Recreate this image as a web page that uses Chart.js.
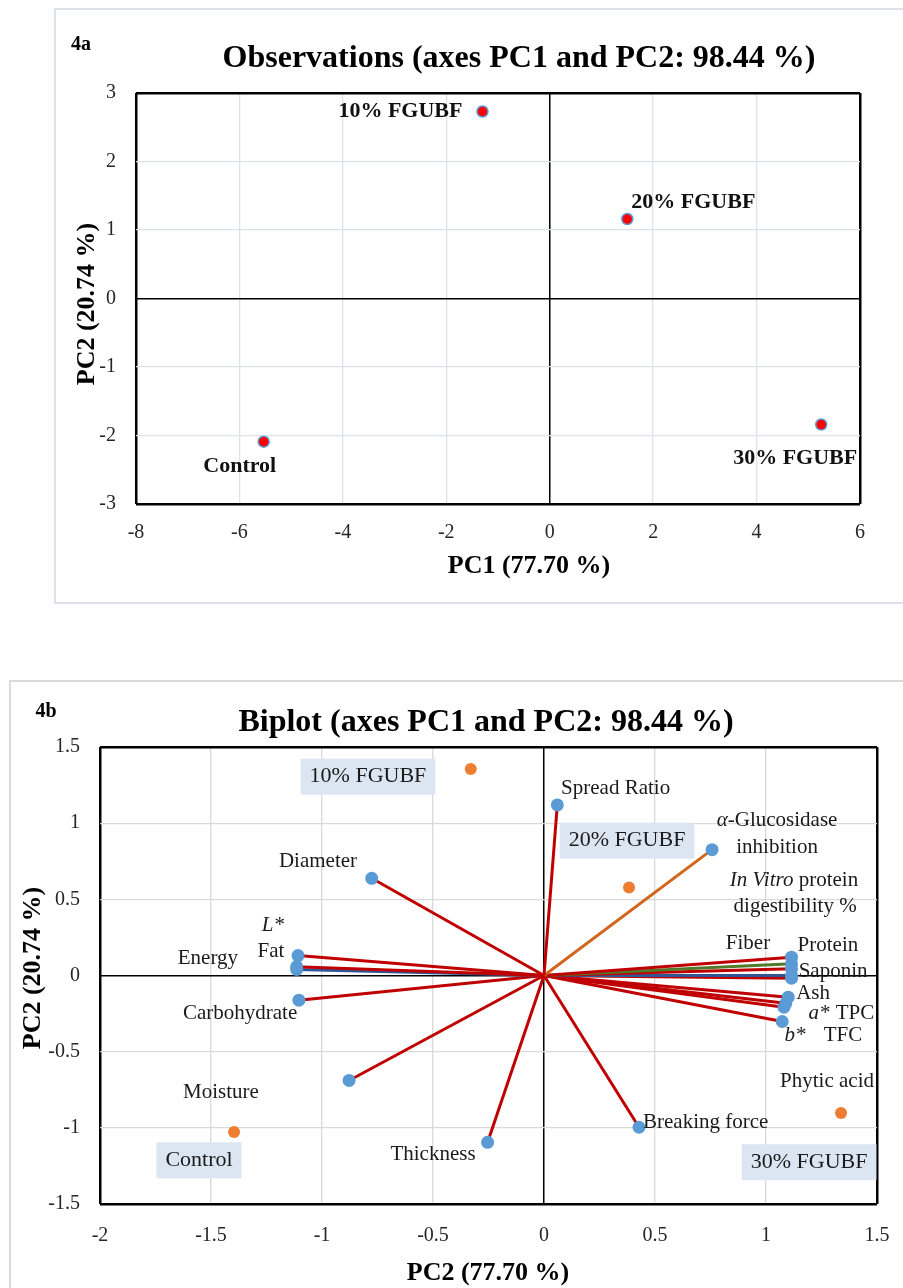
<!DOCTYPE html>
<html>
<head>
<meta charset="utf-8">
<script src="https://cdn.jsdelivr.net/npm/chart.js@4.4.1/dist/chart.umd.min.js"></script>
<style>
  body { margin: 0; background: #fff; width: 903px; height: 1288px; position: relative; overflow: hidden; }
  .frame { position: absolute; border: 2px solid #dde2ea; box-sizing: border-box; }
  canvas { position: absolute; left: 0; }
</style>
</head>
<body>
<div class="frame" style="left:54px; top:8px; width:900px; height:596px;"></div>
<div class="frame" style="left:9px; top:680px; width:950px; height:700px; border-color:#dadada;"></div>
<canvas id="obsChart" width="903" height="620" style="top:0"></canvas>
<canvas id="biplotChart" width="903" height="648" style="top:640px"></canvas>
<script>
// ----- 4a: observations -----
const obsNames = ["10% FGUBF", "20% FGUBF", "30% FGUBF", "Control"];
const obsPC1   = [-1.30, 1.50, 5.25, -5.53];
const obsPC2   = [2.73, 1.16, -1.84, -2.09];
const obsXTicks = [-8, -6, -4, -2, 0, 2, 4, 6];
const obsYTicks = [-3, -2, -1, 0, 1, 2, 3];

// ----- 4b: biplot -----
const biObsPC1 = [-0.33, 0.383, 1.338, -1.396];
const biObsPC2 = [1.355, 0.577, -0.903, -1.027];

const varNames = [
  "Spread Ratio", "α-Glucosidase inhibition", "Diameter", "Fat", "L*", "Energy",
  "Carbohydrate", "Moisture", "Thickness", "Breaking force", "Protein",
  "In Vitro protein digestibility %", "Fiber", "Saponin", "TPC", "Ash", "a*", "TFC", "b*"
];
const varPC1 = [0.06, 0.757, -0.776, -1.108, -1.114, -1.114, -1.104, -0.878, -0.254, 0.428, 1.115,
                1.115, 1.115, 1.115, 1.115, 1.10, 1.089, 1.081, 1.073];
const varPC2 = [1.12, 0.826, 0.638, 0.131, 0.058, 0.040, -0.162, -0.689, -1.095, -0.996, 0.12,
                0.077, 0.044, 0.0, -0.018, -0.142, -0.182, -0.208, -0.302];
const biXTicks = [-2, -1.5, -1, -0.5, 0, 0.5, 1, 1.5];
const biYTicks = [-1.5, -1, -0.5, 0, 0.5, 1, 1.5];

// vector colours that are not the default red
const lineColour = {
  "α-Glucosidase inhibition": "#d4651c",
  "In Vitro protein digestibility %": "#4f7b2b",
  "Saponin": "#2f5597",
  "Energy": "#2f5597",
};

//text placed in data units; "_" toggles italic
const obsLabels = [
  { text: "10% FGUBF", x: -1.30, y: 2.73, dx: -20, dy: 0, align: "right" },
  { text: "20% FGUBF", x: 1.50, y: 1.16, dx: 4, dy: -17, align: "left" },
  { text: "30% FGUBF", x: 5.25, y: -1.84, dx: 36, dy: 34, align: "right" },
  { text: "Control", x: -5.53, y: -2.09, dx: -24, dy: 25, align: "center" },
];

const biLabels = [
  { text: "Spread Ratio", x: 0.077, y: 1.226, align: "left" },
  { text: "_α_-Glucosidase", x: 1.05, y: 1.016 },
  { text: "inhibition", x: 1.05, y: 0.839 },
  { text: "_In Vitro_ protein", x: 1.126, y: 0.623 },
  { text: "digestibility %", x: 1.131, y: 0.452 },
  { text: "Diameter", x: -1.018, y: 0.748 },
  { text: "_L*_", x: -1.221, y: 0.328 },
  { text: "Fat", x: -1.23, y: 0.157 },
  { text: "Energy", x: -1.514, y: 0.111 },
  { text: "Carbohydrate", x: -1.369, y: -0.249 },
  { text: "Moisture", x: -1.455, y: -0.767 },
  { text: "Thickness", x: -0.5, y: -1.174 },
  { text: "Breaking force", x: 0.446, y: -0.964, align: "left" },
  { text: "Phytic acid", x: 1.275, y: -0.695 },
  { text: "Fiber", x: 0.919, y: 0.21 },
  { text: "Protein", x: 1.279, y: 0.197 },
  { text: "Saponin", x: 1.302, y: 0.026 },
  { text: "Ash", x: 1.212, y: -0.118 },
  { text: "_a*_", x: 1.239, y: -0.249 },
  { text: "TPC", x: 1.401, y: -0.249 },
  { text: "_b*_", x: 1.131, y: -0.393 },
  { text: "TFC", x: 1.347, y: -0.393 },
  { text: "10% FGUBF", x: -0.793, y: 1.305, box: true },
  { text: "20% FGUBF", x: 0.374, y: 0.885, box: true },
  { text: "Control", x: -1.554, y: -1.213, box: true },
  { text: "30% FGUBF", x: 1.194, y: -1.226, box: true },
];

const SERIF = '"Liberation Serif", "Times New Roman", serif';
const font = (size, bold, italic) =>
  `${italic ? "italic " : ""}${bold ? "bold " : ""}${size}px ${SERIF}`;

function drawRich(ctx, text, x, y, align, size, bold) {
  const parts = text.split("_");
  const widths = parts.map((p, i) => {
    ctx.font = font(size, bold, i % 2 === 1);
    return ctx.measureText(p).width;
  });
  const total = widths.reduce((a, b) => a + b, 0);
  let start = align === "left" ? x : align === "right" ? x - total : x - total / 2;
  ctx.textBaseline = "middle";
  ctx.textAlign = "left";
  parts.forEach((p, i) => {
    ctx.font = font(size, bold, i % 2 === 1);
    ctx.fillText(p, start, y);
    start += widths[i];
  });
  return total;
}

function pageText(ctx, text, x, y, size, rotate) {
  ctx.save();
  ctx.fillStyle = "#000";
  ctx.translate(x, y);
  if (rotate) ctx.rotate(-Math.PI / 2);
  ctx.font = font(size, true, false);
  ctx.textAlign = "center";
  ctx.textBaseline = "middle";
  ctx.fillText(text, 0, 0);
  ctx.restore();
}

// grid: black frame and zero lines, light lines elsewhere
function gridColour(light) {
  return c => {
    const s = c.scale;
    if (!c.tick) return light;
    const v = c.tick.value;
    return (v === 0 || v === s.min || v === s.max) ? "#000" : light;
  };
}
function gridWidth(c) {
  const s = c.scale;
  if (!c.tick) return 1;
  const v = c.tick.value;
  if (v === s.min || v === s.max) return 2.5;
  return v === 0 ? 1.5 : 1.3;
}

function axis(ticks, light, size, fit, pad) {
  return {
    type: "linear",
    min: ticks[0],
    max: ticks[ticks.length - 1],
    afterBuildTicks: a => { a.ticks = ticks.map(v => ({ value: v })); },
    afterFit: s => {
      fit(s);
      //let the layout padding alone decide the plot edges
      s.paddingLeft = s.paddingRight = s.paddingTop = s.paddingBottom = 0;
    },
    border: { display: false },
    grid: { color: gridColour(light), lineWidth: gridWidth, drawTicks: false },
    ticks: {
      autoSkip: false, maxRotation: 0, padding: pad, color: "#262626",
      font: { family: SERIF, size: size },
      callback: v => String(v),
    },
  };
}

// ----- chart 4a -----
const obsOverlay = {
  id: "obsOverlay",
  afterDatasetsDraw(chart) {
    const { ctx, scales: { x, y } } = chart;
    ctx.save();
    ctx.fillStyle = "#111";
    obsLabels.forEach(l => {
      drawRich(ctx, l.text, x.getPixelForValue(l.x) + l.dx, y.getPixelForValue(l.y) + l.dy, l.align, 22, true);
    });
    ctx.restore();
    pageText(ctx, "4a", 81, 45, 20);
    pageText(ctx, "Observations (axes PC1 and PC2: 98.44 %)", 519, 59, 32);
    pageText(ctx, "PC1 (77.70 %)", 529, 566, 26);
    pageText(ctx, "PC2 (20.74 %)", 87, 304, 26, true);
  },
};

new Chart(document.getElementById("obsChart"), {
  type: "scatter",
  data: {
    datasets: [{
      data: obsPC1.map((v, i) => ({ x: v, y: obsPC2[i] })),
      pointRadius: 5.5,
      pointBackgroundColor: "#ff0000",
      pointBorderColor: "#5b9bd5",
      pointBorderWidth: 1.5,
    }],
  },
  options: {
    responsive: false,
    animation: false,
    devicePixelRatio: 1,
    layout: { padding: { top: 93, right: 43, left: 0, bottom: 0 } },
    plugins: { legend: { display: false }, tooltip: { enabled: false } },
    scales: {
      x: axis(obsXTicks, "#dde2ea", 20, s => { s.height = 116; }, 17),
      y: axis(obsYTicks, "#dde2ea", 20, s => { s.width = 136; }, 20),
    },
  },
  plugins: [obsOverlay],
});

// ----- chart 4b -----
const biOverlay = {
  id: "biOverlay",
  afterDatasetsDraw(chart) {
    const { ctx, scales: { x, y } } = chart;
    ctx.save();
    biLabels.forEach(l => {
      const px = x.getPixelForValue(l.x), py = y.getPixelForValue(l.y);
      if (l.box) {
        ctx.font = font(22, false, false);
        const w = ctx.measureText(l.text).width + 18;
        ctx.fillStyle = "#dce6f2";
        ctx.fillRect(px - w / 2, py - 18, w, 36);
      }
      ctx.fillStyle = "#1a1a1a";
      drawRich(ctx, l.text, px, py, l.align || "center", l.box ? 22 : 21, false);
    });
    ctx.restore();
    pageText(ctx, "4b", 46, 72, 20);
    pageText(ctx, "Biplot (axes PC1 and PC2: 98.44 %)", 486, 83, 32);
    pageText(ctx, "PC2 (77.70 %)", 488, 633, 26);
    pageText(ctx, "PC2 (20.74 %)", 33, 328, 26, true);
  },
};

const vectorSets = varNames.map((name, i) => ({
  data: [{ x: 0, y: 0 }, { x: varPC1[i], y: varPC2[i] }],
  showLine: true,
  borderColor: lineColour[name] || "#c00000",
  borderWidth: 3,
  pointRadius: [0, 6.5],
  pointBackgroundColor: "#5b9bd5",
  pointBorderWidth: 0,
}));

new Chart(document.getElementById("biplotChart"), {
  type: "scatter",
  data: {
    datasets: [{
      data: biObsPC1.map((v, i) => ({ x: v, y: biObsPC2[i] })),
      pointRadius: 6,
      pointBackgroundColor: "#ed7d31",
      pointBorderWidth: 0,
    }, ...vectorSets],
  },
  options: {
    responsive: false,
    animation: false,
    devicePixelRatio: 1,
    layout: { padding: { top: 107, right: 26, left: 0, bottom: 0 } },
    plugins: { legend: { display: false }, tooltip: { enabled: false } },
    scales: {
      x: axis(biXTicks, "#d9d9d9", 20, s => { s.height = 84; }, 20),
      y: axis(biYTicks, "#d9d9d9", 20, s => { s.width = 100; }, 20),
    },
  },
  plugins: [biOverlay],
});
</script>
</body>
</html>
